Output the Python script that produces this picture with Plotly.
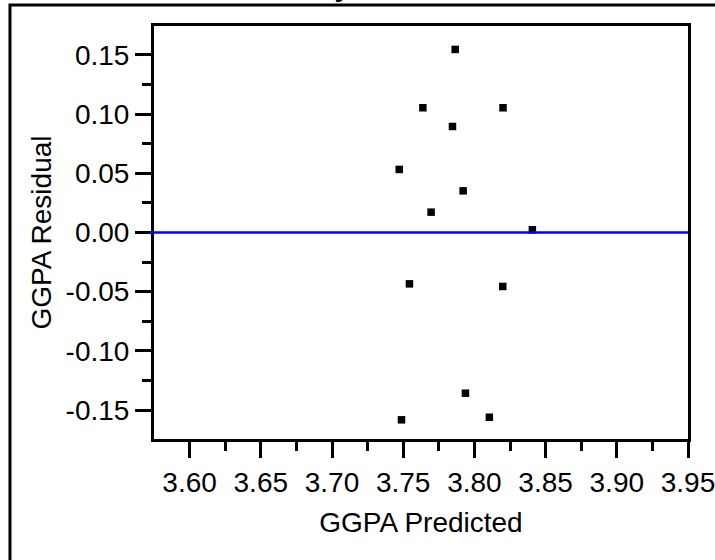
"""
Residual by predicted plot for GGPA (JMP style).
"""

import plotly.graph_objects as go

# values
ggpa_predicted = [3.7865, 3.7638, 3.8201, 3.7846, 3.7472, 3.7921, 3.7696,
                  3.8407, 3.7544, 3.8199, 3.7937, 3.7488, 3.8105]
ggpa_residual = [0.1547, 0.1054, 0.1054, 0.0896, 0.0533, 0.0352, 0.0172,
                 0.0023, -0.0434, -0.0456, -0.1358, -0.1583, -0.1561]

x_ticks = [3.60, 3.65, 3.70, 3.75, 3.80, 3.85, 3.90, 3.95]
y_ticks = [-0.15, -0.10, -0.05, 0.00, 0.05, 0.10, 0.15]
x_labels = ["3.60", "3.65", "3.70", "3.75", "3.80", "3.85", "3.90", "3.95"]
y_labels = ["-0.15", "-0.10", "-0.05", "0.00", "0.05", "0.10", "0.15"]

FONT = "Liberation Sans, Arial, sans-serif"
TXT = 28

fig = go.Figure(
    go.Scatter(
        x=ggpa_predicted,
        y=ggpa_residual,
        mode="markers",
        marker=dict(symbol="square", size=7.5, color="black", line=dict(width=0)),
        hoverinfo="x+y",
        showlegend=False,
    )
)

axis_common = dict(
    showline=True,
    linecolor="black",
    linewidth=3,
    mirror=True,
    showgrid=False,
    zeroline=False,
    automargin=False,
    ticks="outside",
    ticklen=16,
    tickwidth=3,
    tickcolor="black",
    ticklabeloverflow="allow",
    tickfont=dict(family=FONT, size=TXT, color="black"),
)
minor_common = dict(ticks="outside", ticklen=9, tickwidth=3, tickcolor="black", showgrid=False)

fig.update_xaxes(
    range=[3.575, 3.95],
    tickmode="array",
    tickvals=x_ticks,
    ticktext=x_labels,
    minor=dict(tickmode="array", tickvals=[v - 0.025 for v in x_ticks[1:]], **minor_common),
    title=dict(text="GGPA Predicted", font=dict(family=FONT, size=TXT, color="black"), standoff=16),
    **axis_common,
)
fig.update_yaxes(
    range=[-0.1745, 0.1745],
    tickmode="array",
    tickvals=y_ticks,
    ticktext=y_labels,
    minor=dict(tickmode="array", tickvals=[v - 0.025 for v in y_ticks[1:]], **minor_common),
    title=dict(text="GGPA Residual", font=dict(family=FONT, size=TXT, color="black"), standoff=6),
    **axis_common,
)

# zero reference line
fig.add_shape(type="line", xref="paper", yref="y", x0=-0.008, x1=1, y0=0, y1=0,
              line=dict(color="#0000ff", width=2.5), layer="above")

# outer report frame (runs off the right and bottom of the picture)
fig.add_shape(type="rect", xref="paper", yref="paper", x0=-0.2697, x1=1.2, y0=-0.5, y1=1.0508,
              line=dict(color="black", width=3), fillcolor="rgba(0,0,0,0)")

# report title, almost entirely cut off at the top edge as in the reference
fig.add_annotation(text="<b>Residual by Predicted Plot</b>", xref="paper", yref="paper",
                   x=(369 - 154) / 534, y=1 + 22 / 413, xanchor="center", yanchor="bottom",
                   showarrow=False, font=dict(family=FONT, size=TXT, color="black"))

fig.update_layout(
    width=715,
    height=560,
    margin=dict(l=154, r=27, t=26, b=121),
    paper_bgcolor="white",
    plot_bgcolor="white",
    font=dict(family=FONT, color="black"),
)

# drop the default page margin so the figure fills the window exactly
fig.write_html("out.html", config={"displayModeBar": False},
               post_script="document.body.style.margin='0';")
